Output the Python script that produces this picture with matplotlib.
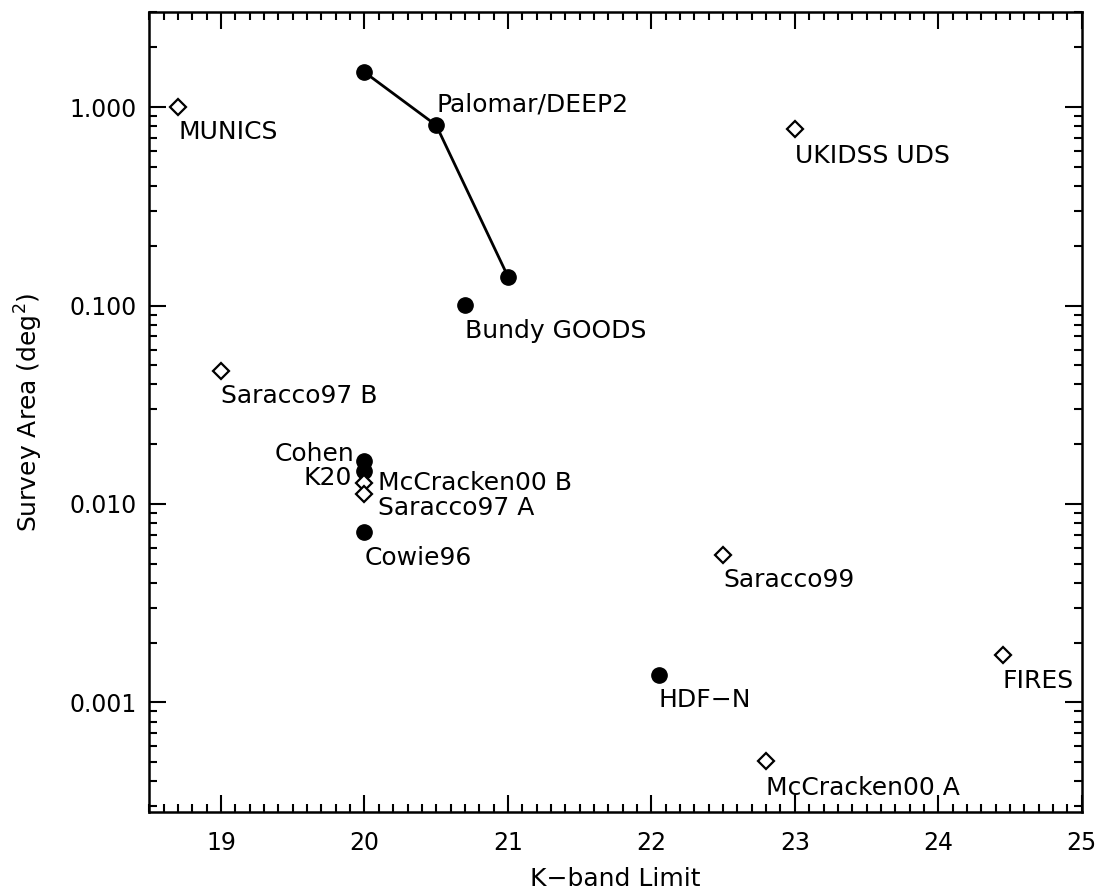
import matplotlib
matplotlib.use('Agg')
import matplotlib.pyplot as plt
from matplotlib.ticker import FixedLocator, LogLocator, FormatStrFormatter, NullFormatter, MultipleLocator

plt.rcParams['font.family'] = ['DejaVu Sans']

# Encuestas con punto relleno
relleno_nombres = ['Palomar/DEEP2', 'Bundy GOODS', 'Cohen', 'K20', 'Cowie96', 'HDF−N']
# linea Palomar/DEEP2 (tres puntos)
deep2_k = [20.0, 20.5, 21.0]
deep2_area = [1.5, 0.81, 0.14]
relleno_k = [20.7, 20.0, 20.0, 20.0, 22.05]
relleno_area = [0.101, 0.0165, 0.0146, 0.00725, 0.00138]

# Encuestas con diamante
diam_nombres = ['MUNICS', 'UKIDSS UDS', 'Saracco97 B', 'McCracken00 B', 'Saracco97 A',
                'Saracco99', 'FIRES', 'McCracken00 A']
diam_k = [18.7, 23.0, 19.0, 20.0, 20.0, 22.5, 24.45, 22.8]
diam_area = [1.0, 0.772, 0.047, 0.0128, 0.0112, 0.00553, 0.00173, 0.000503]

fig = plt.figure(figsize=(11.02, 8.91), dpi=100)
ax = fig.add_axes([0.1355, 0.0887, 0.8461, 0.8973])

ax.plot(deep2_k, deep2_area, '-', color='black', lw=2.0, zorder=2)
ax.plot(deep2_k, deep2_area, 'o', color='black', ms=11, zorder=3)
ax.plot(relleno_k, relleno_area, 'o', color='black', ms=11, lw=0, zorder=3)
ax.plot(diam_k, diam_area, 'D', mfc='white', mec='black', mew=1.6, ms=8.5, lw=0, zorder=3)

fs = 18
# etiquetas: desplazamiento en puntos (dx, dy, alineacion)
def etiqueta(txt, x, y, dx, dy, ha='left'):
    ax.annotate(txt, (x, y), xytext=(dx, dy), textcoords='offset points',
                ha=ha, va='center', fontsize=fs)

etiqueta('Palomar/DEEP2', deep2_k[1], deep2_area[1], 0, 15)
etiqueta('Bundy GOODS', relleno_k[0], relleno_area[0], 0, -19)
etiqueta('Cohen', relleno_k[1], relleno_area[1], -7, 5, 'right')
etiqueta('K20', relleno_k[2], relleno_area[2], -9, -5, 'right')
etiqueta('Cowie96', relleno_k[3], relleno_area[3], 0, -19)
etiqueta('HDF−N', relleno_k[4], relleno_area[4], 0, -18)

etiqueta('MUNICS', diam_k[0], diam_area[0], 0, -18)
etiqueta('UKIDSS UDS', diam_k[1], diam_area[1], 0, -19)
etiqueta('Saracco97 B', diam_k[2], diam_area[2], 0, -18)
etiqueta('McCracken00 B', diam_k[3], diam_area[3], 10, 0)
etiqueta('Saracco97 A', diam_k[4], diam_area[4], 10, -10)
etiqueta('Saracco99', diam_k[5], diam_area[5], 0, -18)
etiqueta('FIRES', diam_k[6], diam_area[6], 0, -19)
etiqueta('McCracken00 A', diam_k[7], diam_area[7], 0, -19)

ax.set_yscale('log')
ax.set_xlim(18.5, 25)
ax.set_ylim(2.8e-4, 3)

ax.xaxis.set_major_locator(MultipleLocator(1))
ax.xaxis.set_minor_locator(MultipleLocator(0.1))
ax.yaxis.set_major_locator(FixedLocator([0.001, 0.01, 0.1, 1.0]))
ax.yaxis.set_major_formatter(FormatStrFormatter('%.3f'))
ax.yaxis.set_minor_locator(LogLocator(base=10, subs=range(2, 10)))
ax.yaxis.set_minor_formatter(NullFormatter())

ax.tick_params(which='both', direction='in', top=True, right=True, labelsize=17, width=1.5)
ax.tick_params(which='major', length=12)
ax.tick_params(which='minor', length=6)
ax.tick_params(axis='x', pad=14)
ax.tick_params(axis='y', pad=9)
for s in ax.spines.values():
    s.set_linewidth(1.8)

ax.set_xlabel('K−band Limit', fontsize=fs, labelpad=8)
ax.set_ylabel('Survey Area (deg$^2$)', fontsize=fs, labelpad=18)

fig.savefig('out.png', dpi=100)
